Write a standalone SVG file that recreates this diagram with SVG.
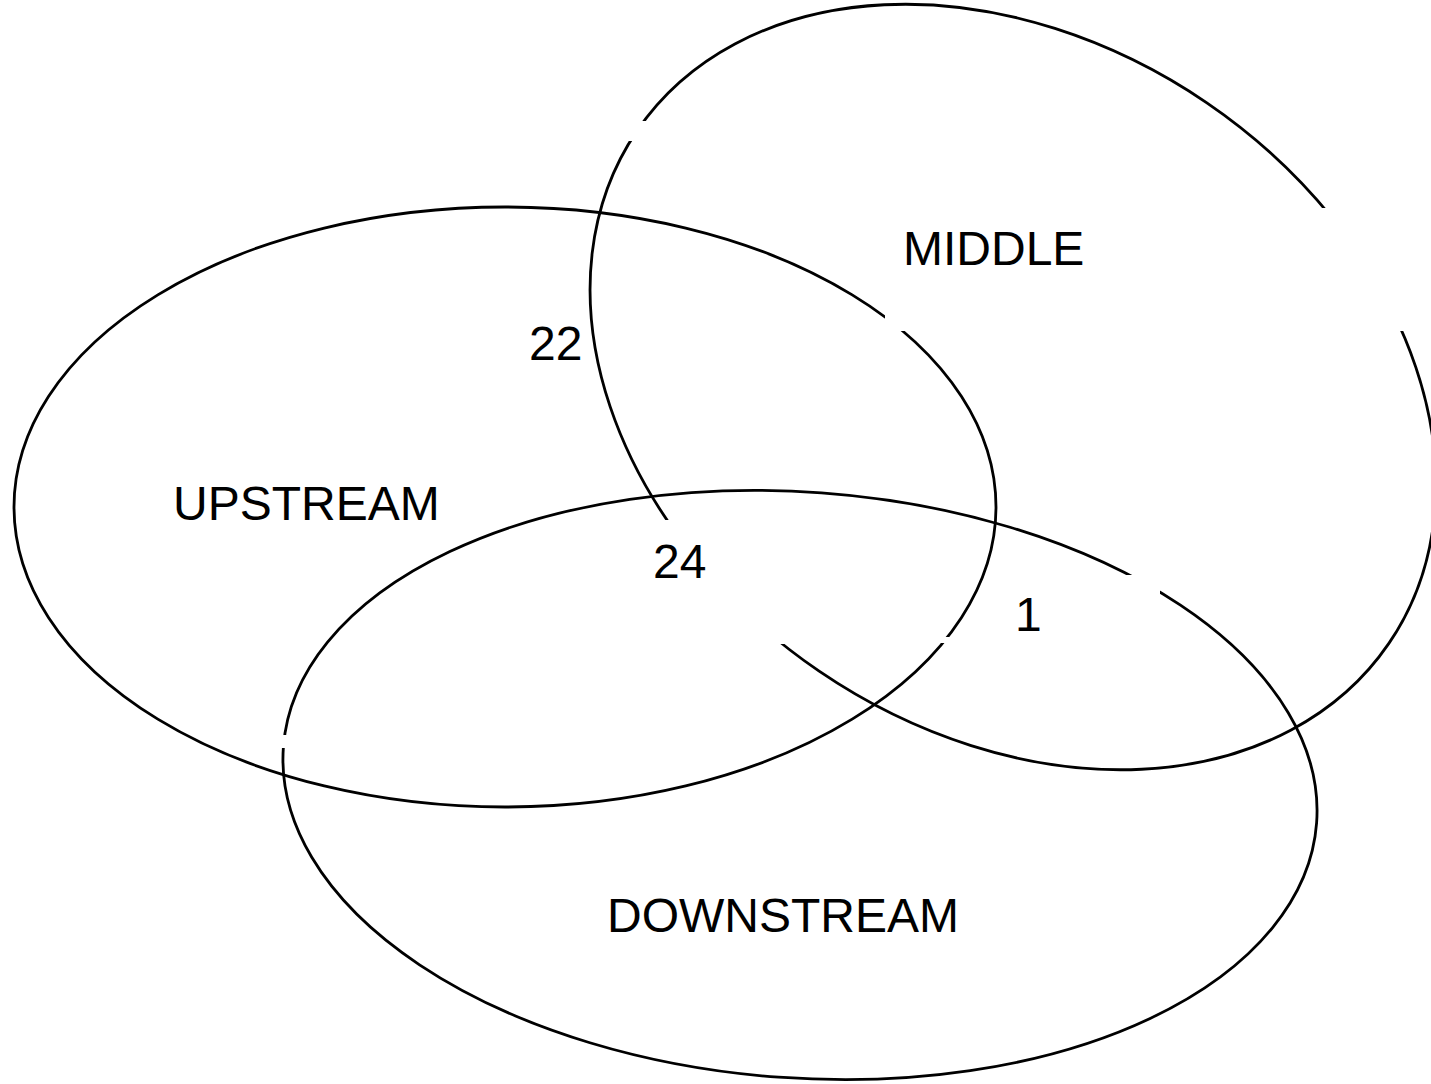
<svg xmlns="http://www.w3.org/2000/svg" width="1431" height="1084" viewBox="0 0 1431 1084">
<style>
.set{fill:none;stroke:#000;stroke-width:2.8}
.gap{fill:#fff;stroke:none}
.lbl{font-family:"Liberation Sans",Arial,sans-serif;font-size:48px;fill:#000}
</style>
<rect width="1431" height="1084" fill="#fff"/>
<g id="sets">
<g id="upstream"><ellipse class="set" cx="505" cy="507" rx="491" ry="300"/></g>
<g id="middle"><ellipse class="set" cx="1013" cy="387" rx="455" ry="344" transform="rotate(34.3 1013 387)"/></g>
<g id="downstream"><ellipse class="set" cx="800" cy="785" rx="518" ry="293" transform="rotate(4.2 800 785)"/></g>
</g>
<g id="label-backgrounds">
<rect class="gap" x="620" y="121" width="40" height="20"/>
<rect class="gap" x="1300" y="208" width="131" height="123"/>
<rect class="gap" x="885" y="300" width="25" height="31"/>
<rect class="gap" x="640" y="520" width="160" height="124"/>
<rect class="gap" x="1100" y="575" width="60" height="25"/>
<rect class="gap" x="930" y="637" width="30" height="6"/>
<rect class="gap" x="270" y="735" width="30" height="13"/>
</g>
<g id="labels">
<text class="lbl" x="903" y="265">MIDDLE</text>
<text class="lbl" x="173" y="520">UPSTREAM</text>
<text class="lbl" x="607" y="932">DOWNSTREAM</text>
<text class="lbl" x="529" y="360">22</text>
<text class="lbl" x="653" y="578">24</text>
<text class="lbl" x="1015" y="631">1</text>
</g>
</svg>
